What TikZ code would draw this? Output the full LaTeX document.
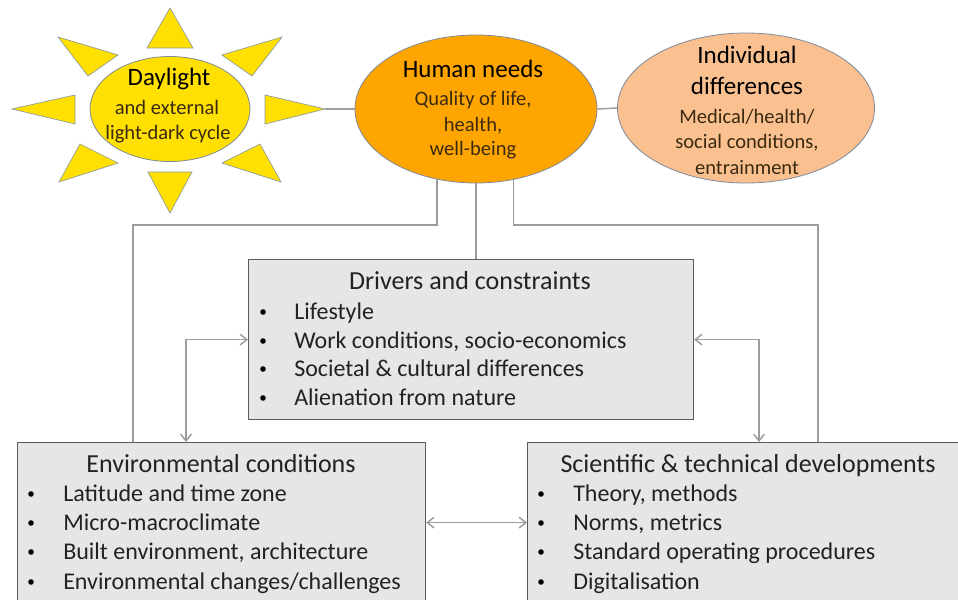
\documentclass[tikz,border=0pt]{standalone}
\usepackage{fontspec}
\setmainfont{Carlito}
\usetikzlibrary{shapes.geometric,arrows.meta,calc}
\definecolor{sunyellow}{HTML}{FFE000}
\definecolor{rayline}{HTML}{8C9A9A}
\definecolor{hnorange}{HTML}{FFA500}
\definecolor{indpeach}{HTML}{FAC090}
\definecolor{ellline}{HTML}{7F8A99}
\definecolor{boxfill}{HTML}{E6E6E6}
\definecolor{boxline}{HTML}{5A5A5A}
\definecolor{connline}{HTML}{9C9C9C}
\definecolor{subtxt}{HTML}{3A2A10}
\definecolor{bodytxt}{HTML}{222222}
\begin{document}
\begin{tikzpicture}[x=0.75pt,y=-0.75pt,
  ray/.style={fill=sunyellow, draw=rayline, line width=0.5pt, line join=miter},
  ell/.style={ellipse, draw=ellline, line width=0.6pt, inner sep=0pt},
  ettl/.style={font=\fontsize{18.75}{22}\selectfont, text=black, anchor=mid, inner sep=0pt, yshift=-3pt},
  esub/.style={font=\fontsize{15.4}{18}\selectfont, text=subtxt, anchor=mid, inner sep=0pt, yshift=-3pt},
  box/.style={rectangle, draw=boxline, fill=boxfill, line width=0.9pt, anchor=north west, inner sep=0pt},
  bttl/.style={font=\fontsize{19.5}{23}\selectfont, text=bodytxt, anchor=mid, inner sep=0pt, yshift=-3pt},
  bitem/.style={font=\fontsize{18}{21}\selectfont, text=bodytxt, anchor=mid west, inner sep=0pt, yshift=-3pt},
  bdot/.style={circle, fill=black, inner sep=0pt, minimum size=4.2pt},
  conn/.style={draw=connline, line width=1.1pt},
  arr/.style={draw=connline, line width=1.1pt, {Straight Barb[length=5pt,width=8pt]}-{Straight Barb[length=5pt,width=8pt]}}
]
\useasboundingbox (0,0) rectangle (958,600);
\clip (0,0) rectangle (958,600);
\fill[white] (0,0) rectangle (958,600);

% sun rays
\path[ray] (170,8) -- (193,48) -- (147,48) -- cycle;
\path[ray] (170,213) -- (148,172) -- (192,172) -- cycle;
\path[ray] (12,109) -- (75,95) -- (75,124) -- cycle;
\path[ray] (325,109) -- (265,95) -- (265,124) -- cycle;
\path[ray] (58,37) -- (118,55) -- (88,76) -- cycle;
\path[ray] (282,37) -- (222,55) -- (252,76) -- cycle;
\path[ray] (59,182) -- (80,144) -- (118,163) -- cycle;
\path[ray] (281,182) -- (260,144) -- (222,163) -- cycle;
\coordinate (sunR) at (325,109);

% ellipses
\node[ell, fill=sunyellow, minimum width=160*0.75pt, minimum height=105*0.75pt] (sun) at (170,109) {};
\node[ell, fill=hnorange, minimum width=242*0.75pt, minimum height=148*0.75pt] (hn) at (476,109) {};
\node[ell, fill=indpeach, minimum width=257*0.75pt, minimum height=150*0.75pt] (ind) at (746,108) {};

\node[ettl] (sunT) at (169,78) {Daylight};
\node[esub] (sunA) at (167,107) {and external};
\node[esub] (sunB) at (168,132) {light-dark cycle};

\node[ettl] (hnT) at (473,70) {Human needs};
\node[esub] (hnA) at (473,98) {Quality of life,};
\node[esub] (hnB) at (473,124) {health,};
\node[esub] (hnC) at (473,148) {well-being};

\node[ettl] (indT) at (747,56) {Individual};
\node[ettl] (indU) at (747,87) {differences};
\node[esub] (indA) at (747,116) {Medical/health/};
\node[esub] (indB) at (747,141) {social conditions,};
\node[esub] (indC) at (747,167) {entrainment};

% boxes
\node[box, minimum width=445*0.75pt, minimum height=160*0.75pt] (drv) at (248,259) {};
\node[box, minimum width=408*0.75pt, minimum height=160*0.75pt] (env) at (17,442) {};
\node[box, minimum width=442*0.75pt, minimum height=160*0.75pt] (sci) at (527,442) {};

\node[bttl] (drvT) at (470,282) {Drivers and constraints};
\foreach \i/\yy/\t in {1/312/{Lifestyle}, 2/341/{Work conditions, socio-economics}, 3/369/{Societal \& cultural differences}, 4/398/{Alienation from nature}}{
  \node[bdot] (drvD\i) at (263,\yy) {};
  \node[bitem] (drvI\i) at (294,\yy) {\t};
}

\node[bttl] (envT) at (221,465) {Environmental conditions};
\foreach \i/\yy/\t in {1/494/{Latitude and time zone}, 2/523/{Micro-macroclimate}, 3/552/{Built environment, architecture}, 4/582/{Environmental changes{/}challenges}}{
  \node[bdot] (envD\i) at (31,\yy) {};
  \node[bitem] (envI\i) at (63,\yy) {\t};
}

\node[bttl] (sciT) at (748,465) {Scientific \& technical developments};
\foreach \i/\yy/\t in {1/494/{Theory, methods}, 2/523/{Norms, metrics}, 3/552/{Standard operating procedures}, 4/582/{Digitalisation}}{
  \node[bdot] (sciD\i) at (541,\yy) {};
  \node[bitem] (sciI\i) at (573,\yy) {\t};
}

% connectors
\draw[conn] (sunR) -- (sun.east -| hn.west);
\draw[conn] (hn.east) -- (ind.west);
\draw[conn] (hn.south) -- (hn.south |- drv.north);
\draw[conn] (hn.241.5) |- ($(env.north west)+(116,-217)$) -- ($(env.north west)+(116,0)$);
\draw[conn] (hn.298.5) |- ($(sci.north west)+(291,-217)$) -- ($(sci.north west)+(291,0)$);

% arrows
\draw[arr] (drv.west) -| ($(env.north west)+(169,0)$);
\draw[arr] (drv.east) -| ($(sci.north west)+(232,0)$);
\draw[arr] (env.east) -- (sci.west);
\end{tikzpicture}
\end{document}
